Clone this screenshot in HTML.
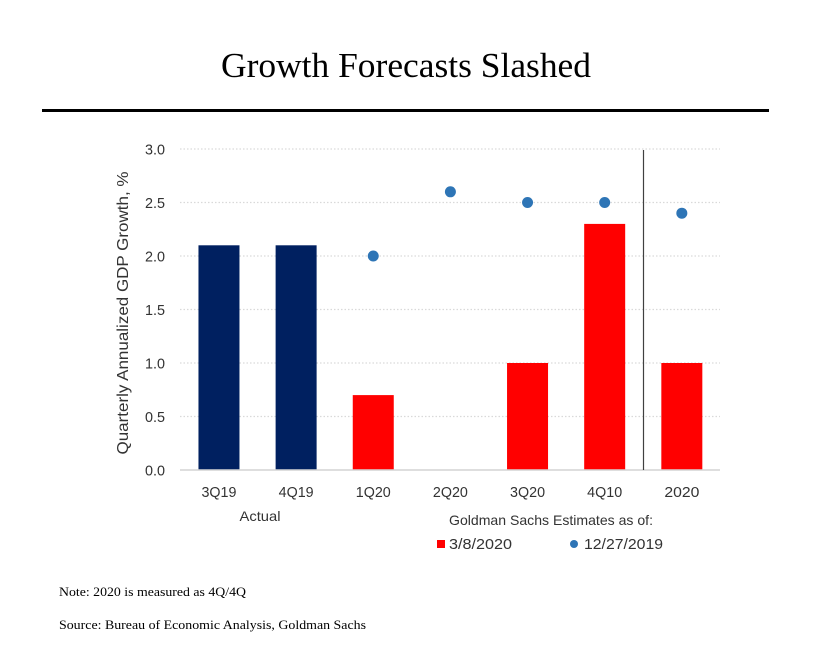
<!DOCTYPE html>
<html lang="en">
<head>
<meta charset="utf-8">
<title>Growth Forecasts Slashed</title>
<style>
html,body{margin:0;padding:0;background:#fff;}
body{width:838px;height:646px;overflow:hidden;position:relative;}
svg{position:absolute;left:0;top:0;display:block;}
.sans{font-family:"Liberation Sans",sans-serif;fill:#333;}
.serif{font-family:"Liberation Serif",serif;fill:#000;}
</style>
</head>
<body>
<svg id="chart" width="838" height="646" viewBox="0 0 838 646" xmlns="http://www.w3.org/2000/svg">
  <text class="serif" x="406" y="77" font-size="35" text-anchor="middle" textLength="370" lengthAdjust="spacingAndGlyphs">Growth Forecasts Slashed</text>
  <rect x="42" y="109" width="727" height="3" fill="#000"/>
  <g id="grid"></g>
  <g id="yticks"></g>
  <g id="bars"></g>
  <g id="points"></g>
  <line x1="180" y1="470" x2="720" y2="470" stroke="#d4d4d4" stroke-width="1.5"/>
  <line x1="643.5" y1="150" x2="643.5" y2="470" stroke="#404040" stroke-width="1.2"/>
  <g id="xticks"></g>
  <text class="sans" transform="translate(128,313) rotate(-90)" font-size="16" text-anchor="middle" textLength="283" lengthAdjust="spacingAndGlyphs">Quarterly Annualized GDP Growth, %</text>
  <text class="sans" x="260" y="521" text-anchor="middle" font-size="14" textLength="41" lengthAdjust="spacingAndGlyphs">Actual</text>
  <text class="sans" x="449" y="525" font-size="14" textLength="204" lengthAdjust="spacingAndGlyphs">Goldman Sachs Estimates as of:</text>
  <rect x="437" y="540" width="8" height="8" fill="#ff0000"/>
  <text class="sans" x="449" y="549" font-size="15" textLength="63" lengthAdjust="spacingAndGlyphs">3/8/2020</text>
  <circle cx="574" cy="544" r="4" fill="#2e75b6"/>
  <text class="sans" x="584" y="549" font-size="15" textLength="79" lengthAdjust="spacingAndGlyphs">12/27/2019</text>
  <text class="serif" x="59" y="596" font-size="13" textLength="187" lengthAdjust="spacingAndGlyphs">Note: 2020 is measured as 4Q/4Q</text>
  <text class="serif" x="59" y="629" font-size="13" textLength="307" lengthAdjust="spacingAndGlyphs">Source: Bureau of Economic Analysis, Goldman Sachs</text>
</svg>
<script>
const categories = ["3Q19", "4Q19", "1Q20", "2Q20", "3Q20", "4Q10", "2020"];
const barValues = [2.1, 2.1, 0.7, null, 1.0, 2.3, 1.0];
const barKinds = ["actual", "actual", "estimate", "estimate", "estimate", "estimate", "estimate"];
const pointValues = [null, null, 2.0, 2.6, 2.5, 2.5, 2.4];
const yTickValues = [0, 0.5, 1.0, 1.5, 2.0, 2.5, 3.0];

const NS = "http://www.w3.org/2000/svg";
const gridLeft = 180, gridRight = 720;
const bandLeft = 180.4, bandRight = 720.4, plotTop = 149, plotBottom = 470, yMax = 3;
const barWidth = 41;
function xScale(i) { return bandLeft + (i + 0.5) * (bandRight - bandLeft) / categories.length; }
function yScale(v) { return plotBottom - (v / yMax) * (plotBottom - plotTop); }
function make(tag, attrs, parent, text) {
  const el = document.createElementNS(NS, tag);
  for (const k in attrs) el.setAttribute(k, attrs[k]);
  if (text !== undefined) el.textContent = text;
  document.getElementById(parent).appendChild(el);
  return el;
}

yTickValues.forEach(function (v) {
  if (v > 0) {
    const g = make("line", { x1: gridLeft, x2: gridRight, y1: yScale(v), y2: yScale(v), stroke: "#d9d9d9", "stroke-width": 1.2, "stroke-dasharray": "1.5 2" }, "grid");
    
    
  }
  const t = make("text", { x: 165, y: yScale(v) + 5.5, "text-anchor": "end", class: "sans", "font-size": 15, textLength: 20, lengthAdjust: "spacingAndGlyphs" }, "yticks", v.toFixed(1));
  
  
});

categories.forEach(function (c, i) {
  const t = make("text", { x: xScale(i), y: 497, "text-anchor": "middle", class: "sans", "font-size": 14.5, textLength: 35, lengthAdjust: "spacingAndGlyphs" }, "xticks", c);
  
  
});

barValues.forEach(function (v, i) {
  if (v === null) return;
  const b = make("rect", {
    x: xScale(i) - barWidth / 2,
    y: yScale(v),
    width: barWidth,
    height: plotBottom - yScale(v),
    fill: barKinds[i] === "actual" ? "#002060" : "#ff0000"
  }, "bars");
  
  
});

pointValues.forEach(function (v, i) {
  if (v === null) return;
  const p = make("circle", { cx: xScale(i), cy: yScale(v), r: 5.5, fill: "#2e75b6" }, "points");
  
  
});
</script>
</body>
</html>
